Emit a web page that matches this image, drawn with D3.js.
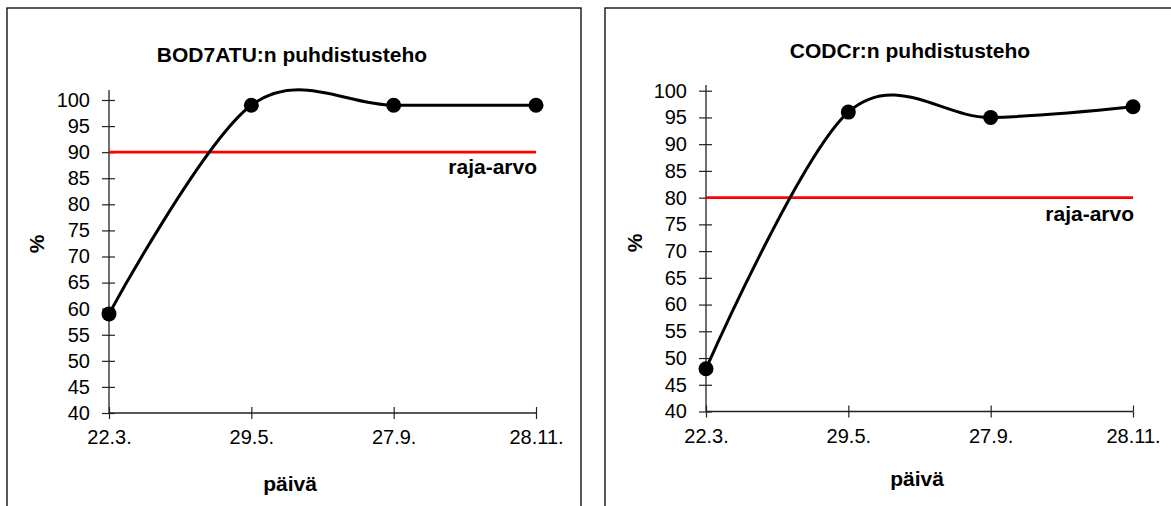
<!DOCTYPE html>
<html>
<head>
<meta charset="utf-8">
<script src="https://cdn.jsdelivr.net/npm/d3@7"></script>
<style>
  body { margin: 0; background: #fff; }
  svg { display: block; font-family: "Liberation Sans", Arial, sans-serif; }
</style>
</head>
<body>
<svg width="1171" height="506"></svg>
<script>
// data
var dates = ["22.3.", "29.5.", "27.9.", "28.11."];
var bodValues = [59, 99, 99, 99];
var codValues = [48, 96, 95, 97];
var bodLimit = 90;
var codLimit = 80;
var yTicks = d3.range(40, 101, 5);
var titles = ["BOD7ATU:n puhdistusteho", "CODCr:n puhdistusteho"];
var limitLabel = "raja-arvo";
var xTitle = "päivä";
var yTitle = "%";

var svg = d3.select("svg");

// frames
svg.append("rect").attr("x", 7).attr("y", 8).attr("width", 574).attr("height", 520)
  .attr("fill", "none").attr("stroke", "#000").attr("stroke-width", 1.3);
svg.append("rect").attr("x", 605).attr("y", 8).attr("width", 600).attr("height", 520)
  .attr("fill", "none").attr("stroke", "#000").attr("stroke-width", 1.3);

var panels = [
  {title: titles[0], values: bodValues, limit: bodLimit, x0: 109, x1: 536, yBot: 413, yTop: 100, axisTop: 90,
   titleX: 292, titleY: 56, pctX: 38, pctY: 244, dayX: 290, dayY: 485, limOff: 16},
  {title: titles[1], values: codValues, limit: codLimit, x0: 706, x1: 1133, yBot: 411.5, yTop: 90.7, axisTop: 85,
   titleX: 910, titleY: 52, pctX: 636, pctY: 243, dayX: 917, dayY: 480, limOff: 18}
];

var tickFont = "20px";
var boldFont = "21px";

panels.forEach(function(p) {
  var x = d3.scalePoint().domain(dates).range([p.x0, p.x1]).padding(0);
  var y = d3.scaleLinear().domain([40, 100]).range([p.yBot, p.yTop]);

  var g = svg.append("g");

  // y axis, cross ticks
  var ya = g.append("g").attr("transform", "translate(" + p.x0 + ",0)")
    .call(d3.axisLeft(y).tickValues(yTicks).tickSize(7).tickPadding(12));
  ya.select(".domain").remove();
  ya.selectAll(".tick").append("line").attr("x2", 6).attr("stroke", "#000");
  ya.selectAll(".tick line").attr("stroke", "#222").attr("stroke-width", 1.2);
  ya.selectAll("text").style("font-size", tickFont).style("font-family", "Liberation Sans, Arial, sans-serif").attr("fill", "#000");
  g.append("line").attr("x1", p.x0).attr("x2", p.x0).attr("y1", p.axisTop).attr("y2", p.yBot)
    .attr("stroke", "#222").attr("stroke-width", 1.3);

  // x axis
  var xa = g.append("g").attr("transform", "translate(0," + p.yBot + ")")
    .call(d3.axisBottom(x).tickSize(6).tickPadding(11));
  xa.select(".domain").remove();
  xa.selectAll(".tick").append("line").attr("y2", -6).attr("stroke", "#000");
  xa.selectAll(".tick line").attr("stroke", "#222").attr("stroke-width", 1.2);
  xa.selectAll("text").style("font-size", tickFont).style("font-family", "Liberation Sans, Arial, sans-serif").attr("fill", "#000");
  g.append("line").attr("x1", p.x0).attr("x2", p.x1).attr("y1", p.yBot).attr("y2", p.yBot)
    .attr("stroke", "#222").attr("stroke-width", 1.3);

  // limit line
  g.append("line").attr("x1", x(dates[0])).attr("x2", x(dates[dates.length - 1]))
    .attr("y1", y(p.limit)).attr("y2", y(p.limit))
    .attr("stroke", "#ff0000").attr("stroke-width", 2.7);
  g.append("text").attr("x", x(dates[dates.length - 1]) + 1).attr("y", y(p.limit) + p.limOff)
    .attr("text-anchor", "end").attr("dominant-baseline", "middle")
    .style("font-size", boldFont).style("font-weight", "bold").text(limitLabel);

  // smoothed series
  var line = d3.line()
    .x(function(d, i) { return x(dates[i]); })
    .y(function(d) { return y(d); })
    .curve(d3.curveCardinal.tension(0));
  g.append("path").attr("d", line(p.values))
    .attr("fill", "none").attr("stroke", "#000").attr("stroke-width", 3);

  g.selectAll(".dot").data(p.values).enter().append("circle")
    .attr("cx", function(d, i) { return x(dates[i]); })
    .attr("cy", function(d) { return y(d); })
    .attr("r", 7.5).attr("fill", "#000");

  // titles
  g.append("text").attr("x", p.titleX).attr("y", p.titleY)
    .attr("text-anchor", "middle").attr("dominant-baseline", "middle")
    .style("font-size", boldFont).style("font-weight", "bold").text(p.title);
  g.append("text").attr("x", p.dayX).attr("y", p.dayY)
    .attr("text-anchor", "middle").attr("dominant-baseline", "middle")
    .style("font-size", boldFont).style("font-weight", "bold").text(xTitle);
  g.append("text").attr("transform", "translate(" + p.pctX + "," + p.pctY + ") rotate(-90)")
    .attr("text-anchor", "middle").attr("dominant-baseline", "middle")
    .style("font-size", boldFont).style("font-weight", "bold").text(yTitle);
});
</script>
</body>
</html>
